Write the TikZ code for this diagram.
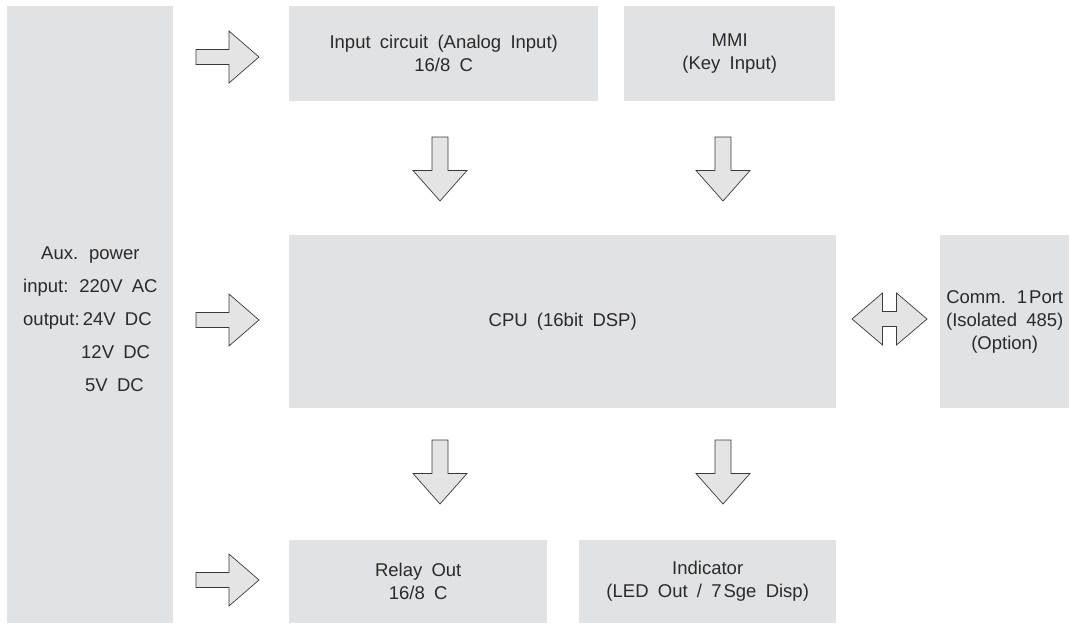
\documentclass[tikz,border=0pt]{standalone}
\usepackage{fontspec}
\setmainfont{Liberation Sans}[WordSpace=1.8]
\definecolor{boxgray}{HTML}{E1E2E4}
\definecolor{arrgray}{HTML}{E4E4E4}
\definecolor{arrline}{HTML}{3A3A3A}
\definecolor{txt}{HTML}{2A2A2A}
\tikzset{
  box/.style={fill=boxgray, draw=none, inner sep=0pt, anchor=north west, align=center,
    text=txt, font=\fontsize{18.5}{23}\selectfont},
  blockarrow/.style={fill=arrgray, draw=arrline, line width=0.7pt, line join=miter},
  rarrow/.pic={\draw[blockarrow] (0,-7.5) -- (33,-7.5) -- (33,-26) -- (63,0) -- (33,26) -- (33,7.5) -- (0,7.5) -- cycle;},
  darrow/.pic={\draw[blockarrow] (-8,0) -- (8,0) -- (8,33.5) -- (27,33.5) -- (0,64) -- (-27,33.5) -- (-8,33.5) -- cycle;},
  dblarrow/.pic={\draw[blockarrow] (-37.5,0) -- (-7,-26) -- (-7,-7.5) -- (7,-7.5) -- (7,-26) -- (37.5,0) -- (7,26) -- (7,7.5) -- (-7,7.5) -- (-7,26) -- cycle;}
}
\begin{document}
\begin{tikzpicture}[x=1pt,y=-1pt]
\useasboundingbox (0,0) rectangle (1075,635);
% boxes
\node[box, minimum width=166, minimum height=617] (aux) at (7,6) {};
\node[anchor=west, inner sep=0pt, text=txt, font=\fontsize{18.5}{33}\selectfont] (auxtext) at (23,319)
  {\begin{tabular}{@{}l@{}}
   \hspace{18pt}Aux. power\\
   input: 220V AC\\
   output:\hspace{3pt}24V DC\\
   \hspace{58pt}12V DC\\
   \hspace{62pt}5V DC
   \end{tabular}};
\node[box, minimum width=309, minimum height=95] (inp) at (289,6) {Input circuit (Analog Input)\\16/8 C};
\node[box, minimum width=211, minimum height=95] (mmi) at (624,6) {MMI\\(Key Input)};
\node[box, minimum width=547, minimum height=173] (cpu) at (289,235) {CPU (16bit DSP)};
\node[box, minimum width=129, minimum height=173] (comm) at (940,235) {Comm. 1\hspace{2pt}Port\\(Isolated 485)\\(Option)};
\node[box, minimum width=258, minimum height=83] (relay) at (289,540) {Relay Out\\16/8 C};
\node[box, minimum width=257, minimum height=83] (ind) at (579,540) {Indicator\\(LED Out / 7\hspace{2pt}Sge Disp)};
% block arrows
\pic at (196,57) {rarrow};
\pic at (196,320) {rarrow};
\pic at (196,580) {rarrow};
\pic at (440,137) {darrow};
\pic at (723,137) {darrow};
\pic at (440,440) {darrow};
\pic at (723,440) {darrow};
\pic at (889.5,319) {dblarrow};
\end{tikzpicture}
\end{document}
